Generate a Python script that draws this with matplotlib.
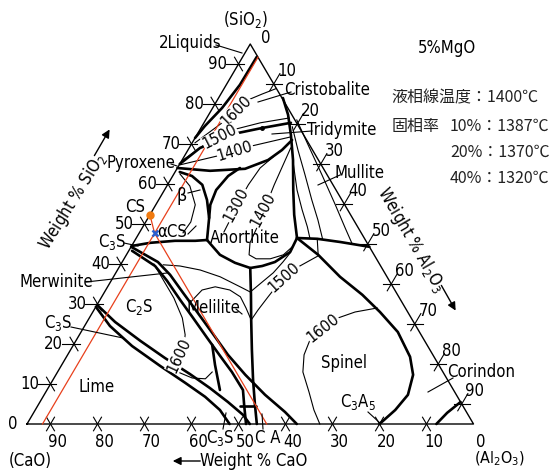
import numpy as np
import matplotlib
matplotlib.use("Agg")
import matplotlib.pyplot as plt
from matplotlib.lines import Line2D
from matplotlib import font_manager as fm

# narrow face for the labels, whichever one is installed
_fonts = fm.fontManager.ttflist
_names = {f.name for f in _fonts}
BASE, STRETCH, FS = 'Liberation Sans', 'normal', 10.5
if 'Liberation Sans Narrow' in _names:
    BASE, STRETCH, FS = 'Liberation Sans Narrow', 'normal', 12
else:
    for fam in ['DejaVu Sans', 'Noto Sans', 'Open Sans', 'Roboto']:
        if any(f.name == fam and str(f.stretch) in ('condensed', 'semi-condensed')
               for f in _fonts):
            BASE, STRETCH, FS = fam, 'condensed', 12
            break

plt.rcParams['font.family'] = [BASE, 'DejaVu Sans']
plt.rcParams['font.stretch'] = STRETCH
plt.rcParams['mathtext.fontset'] = 'custom'
plt.rcParams['mathtext.rm'] = f'{BASE}:stretch={STRETCH}'
plt.rcParams['mathtext.it'] = f'{BASE}:stretch={STRETCH}'

W, H = 553, 471
TOTAL = 95.0  # CaO + Al2O3 + SiO2 in the 5 % MgO section

# ---- phase boundaries, points are (Al2O3, SiO2) wt%, CaO is the rest ----
silica_2liq = [(3.0, 91.8), (2.9, 84.8), (2.0, 79.0), (0.6, 74.5), (0.0, 71.5)]
crist_trid = [(0.0, 65.0), (2.3, 69.0), (7.6, 72.5), (13.0, 74.0), (18.5, 75.3)]
trid_lower = [(0.0, 64.0), (7.3, 63.3), (14.5, 63.8), (18.3, 66.0), (20.0, 68.5), (20.9, 71.0)]
silica_mullite = [(13.7, 81.5), (16.9, 77.3), (20.0, 72.3), (23.6, 66.0), (27.4, 58.5),
                  (30.7, 52.3), (34.2, 46.5)]
cs_anorthite = [(1.0, 63.0), (4.1, 62.0), (7.4, 59.8), (10.3, 56.0), (13.0, 51.5), (15.3, 46.0)]
an_upper = [(13.3, 64.0), (11.8, 62.0), (11.0, 58.5), (11.6, 54.8), (13.0, 51.5)]
an_lower = [(15.3, 46.0), (19.9, 42.3), (24.1, 40.3), (28.0, 39.0), (30.3, 39.5),
            (32.5, 40.5), (34.5, 43.0), (34.2, 46.5)]
mullite_lower = [(34.2, 46.5), (38.6, 46.3), (43.9, 45.5), (50.7, 44.3)]
spinel_bound = [(34.2, 46.5), (40.8, 42.3), (48.2, 36.8), (55.2, 32.3), (61.1, 28.0),
                (67.4, 23.0), (73.1, 16.8), (76.0, 12.3), (77.4, 7.3), (76.6, 3.5), (75.0, 0.0)]
melilite_spinel = [(28.0, 39.0), (31.5, 32.3), (34.7, 26.0), (38.6, 18.5), (42.6, 11.0),
                   (46.1, 4.8), (48.9, 0.0)]
cs_lower = [(0.0, 44.5), (3.6, 45.3), (8.6, 45.8), (12.9, 45.8), (15.3, 46.0)]
c2s_mel_a = [(0.0, 44.3), (7.6, 40.5), (11.8, 37.3), (16.8, 32.8), (22.2, 28.0), (28.0, 22.8),
             (34.1, 17.3), (40.3, 12.3), (47.0, 7.3), (53.4, 3.0), (57.4, 0.0)]
c2s_mel_b = [(0.7, 43.3), (7.5, 39.5), (11.9, 35.8), (17.1, 31.0), (22.1, 26.5), (27.6, 21.5),
             (32.6, 17.0), (37.1, 13.0), (41.7, 8.5), (43.8, 4.8), (46.6, 0.0)]
c2s_c3s = [(0.0, 29.8), (6.0, 25.5), (13.7, 20.8), (21.1, 16.5), (28.4, 12.5), (34.4, 9.0),
           (40.0, 5.5), (44.8, 2.3), (47.4, 0.0)]
c3s_lime = [(0.0, 29.3), (5.4, 24.5), (12.6, 19.5), (21.1, 14.5), (28.5, 10.3), (34.5, 6.8),
            (39.3, 3.5), (43.1, 0.0)]
small_a = [(29.5, 19.8), (32.6, 14.8), (36.8, 8.5)]
small_b = [(43.1, 4.5), (46.5, 4.5)]
corundum = [(87.1, 0.0), (88.0, 2.8), (89.5, 5.5)]

thick_lines = [silica_2liq, crist_trid, trid_lower, silica_mullite, cs_anorthite, an_upper,
               an_lower, mullite_lower, spinel_bound, melilite_spinel, cs_lower, c2s_mel_a,
               c2s_mel_b, c2s_c3s, c3s_lime, small_a, small_b, corundum]

# ---- isotherms and other thin lines ----
iso1600_top = [(0.6, 70.3), (4.0, 75.5), (6.5, 81.0), (8.8, 82.5), (11.0, 83.8)]
iso1500_top = [(0.2, 66.0), (3.2, 70.3), (6.9, 73.5), (12.0, 75.3), (17.5, 76.5)]
iso1400_top = [(0.2, 64.8), (7.9, 67.3), (12.4, 69.3), (20.3, 71.8)]
iso1300_an = [(19.0, 66.8), (17.6, 64.0), (17.2, 59.8), (17.3, 55.3), (17.7, 51.0), (17.9, 48.0)]
iso1400_an = [(21.6, 69.0), (22.1, 64.8), (22.7, 59.8), (23.5, 54.8), (24.3, 49.8), (24.8, 45.3),
              (26.1, 42.3), (28.1, 41.3), (31.1, 41.3), (33.4, 42.3), (34.3, 44.3)]
mullite_iso_0 = [(24.3, 64.8), (28.2, 58.5), (31.8, 53.5), (35.0, 49.3), (37.0, 46.4)]
mullite_iso_1 = [(19.3, 74.3), (23.4, 68.5), (28.0, 62.3), (32.6, 56.0), (36.4, 51.0), (39.8, 46.2)]
mullite_iso_2 = [(19.4, 76.0), (24.9, 69.8), (31.6, 62.3), (38.2, 54.8), (43.2, 49.0), (46.7, 45.0)]
iso1600_spinel = [(60.0, 29.0), (55.8, 28.0), (52.9, 26.5), (50.8, 24.0), (49.7, 21.0),
                  (50.3, 17.3), (52.2, 13.0), (56.0, 8.0), (59.3, 3.5), (62.3, 0.0)]
iso1500_low = [(40.9, 42.0), (38.3, 39.5), (36.2, 36.5), (35.4, 31.8), (34.9, 28.5), (34.7, 26.0),
               (32.1, 29.0), (29.5, 31.8), (26.4, 33.5), (22.9, 34.3), (20.5, 33.5), (19.5, 30.3)]
iso_mel_upper = [(9.1, 39.8), (12.8, 39.5), (17.6, 38.5), (22.7, 36.8), (28.2, 34.3), (31.0, 33.0),
                 (32.3, 35.5), (33.5, 37.8), (34.2, 40.5), (34.6, 42.8)]
cs_alpha_beta = [(1.3, 62.5), (4.9, 59.5), (8.4, 54.8), (9.6, 50.5), (9.3, 47.8)]
iso1600_c2s = [(7.0, 40.0), (11.0, 36.0), (15.5, 31.5), (19.8, 26.5), (22.5, 22.3), (24.0, 18.5),
               (24.0, 15.5), (25.6, 13.0), (29.4, 11.5), (32.3, 11.3), (32.9, 13.0)]
mullite_spinel_tie = [(38.6, 46.3), (40.8, 42.3)]

thin_lines = [iso1600_top, iso1500_top, iso1400_top, iso1300_an, iso1400_an, mullite_iso_0,
              mullite_iso_1, mullite_iso_2, iso1600_spinel, iso1500_low, iso_mel_upper,
              cs_alpha_beta, iso1600_c2s, mullite_spinel_tie]

# section lines through the sample composition
const_al2o3 = [(3.3, 0.0), (3.3, 91.7)]
cs_to_ca = [(0.0, 52.3), (3.3, 47.7), (51.0, 0.0)]
cs_point = (0.0, 52.3)
sample = (3.3, 47.7)

tick_vals = [0, 10, 20, 30, 40, 50, 60, 70, 80, 90]

liquidus_temp = 1400
solid_frac = [10, 20, 40]
solid_temp = [1387, 1370, 1320]


def tern(pts):
    p = np.asarray(pts, dtype=float)
    return p[:, 0] + p[:, 1] / 2, p[:, 1]


def fp(x, y):
    return x / W, 1 - y / H


fig = plt.figure(figsize=(W / 100, H / 100), dpi=100)
ax = fig.add_axes([0, 0, 1, 1])
ax.set_xlim(-27 / 4.7, 526 / 4.7)
ax.set_ylim(-47 / 4, 424 / 4)
ax.axis('off')

# triangle
ax.plot(*tern([(0, 0), (TOTAL, 0), (0, TOTAL), (0, 0)]), color='k', lw=1.0)

for pts in thin_lines:
    ax.plot(*tern(pts), color='k', lw=0.8, solid_joinstyle='round')
for pts in thick_lines:
    ax.plot(*tern(pts), color='k', lw=1.9, solid_joinstyle='round', solid_capstyle='round')
ax.plot(*tern([(13.0, 74.0)]), 'o', color='k', ms=2.5)

# ticks on the three edges
d = 1.7
for v in tick_vals[1:]:
    a0 = TOTAL - v
    ax.plot(*tern([(a0 - d, d), (a0 + d, -d)]), color='k', lw=0.8)
    ax.plot(*tern([(a0, -d), (a0, d)]), color='k', lw=0.8)
    ax.plot(*tern([(-2.6, v), (1.2, v)]), color='k', lw=0.8)
    ax.plot(*tern([(-d, v + d), (d, v - d)]), color='k', lw=0.8)
    s0 = TOTAL - v
    ax.plot(*tern([(v - d, s0), (v + d, s0)]), color='k', lw=0.8)
    ax.plot(*tern([(v, s0 - d), (v, s0 + 2.6)]), color='k', lw=0.8)

for v in tick_vals:
    a0 = TOTAL - v
    ax.text(a0 + 1.5, -4.4, str(v), ha='center', va='center', fontsize=FS)
    ax.text(v / 2 - (4.4 if v else 3.0), v, str(v), ha='center', va='center', fontsize=FS)
    s0 = TOTAL - v
    if v:
        ax.text(v + s0 / 2 + 2.8, s0 + 3.3, str(v), ha='center', va='center', fontsize=FS)
    else:
        ax.text(s0 / 2 + 3.3, s0 + 1.5, str(v), ha='center', va='center', fontsize=FS)

# section lines
ax.plot(*tern(const_al2o3), color='#e8401c', lw=0.9)
ax.plot(*tern(cs_to_ca), color='#e8401c', lw=0.9)
ax.plot(*tern([cs_point]), 'o', color='#f07a10', ms=5)
ax.plot(*tern([sample]), 'x', color='#2a5fd0', ms=5, mew=1.8)


def lab(x, y, s, size=FS, rot=0, ha='center', **kw):
    fig.text(*fp(x, y), s, ha=ha, va='center', rotation=rot, fontsize=size,
             rotation_mode='anchor', **kw)


def lead(x1, y1, x2, y2):
    fig.add_artist(Line2D([x1 / W, x2 / W], [1 - y1 / H, 1 - y2 / H],
                          transform=fig.transFigure, color='k', lw=0.8))


def arrow(x1, y1, x2, y2):
    ax.annotate('', xy=fp(x2, y2), xytext=fp(x1, y1), xycoords='figure fraction',
                textcoords='figure fraction',
                arrowprops=dict(arrowstyle='-|>', color='k', lw=1.0, mutation_scale=12))


# phase fields
lab(190, 43, '2Liquids')
lab(327, 90, 'Cristobalite')
lab(342, 130, 'Tridymite')
lab(360, 173, 'Mullite')
lab(141, 163, 'Pyroxene')
lab(182, 196, 'β', size=FS + 1)
lab(135, 207, 'CS')
lab(172, 232, 'αCS')
lab(112, 242, 'C$_3$S')
lab(245, 238, 'Anorthite')
lab(56, 282, 'Merwinite')
lab(139, 307, 'C$_2$S')
lab(213, 308, 'Melilite')
lab(58, 323, 'C$_3$S')
lab(97, 387, 'Lime')
lab(344, 363, 'Spinel')
lab(358, 402, 'C$_3$A$_5$')
lab(481, 372, 'Corindon')
lab(220, 438, 'C$_3$S')
lab(268, 438, 'C A')

lead(216, 45, 242, 53)
lead(291, 92, 258, 102)
lead(312, 131, 272, 134)
lead(340, 175, 318, 185)
lead(171, 164, 177, 166)
lead(188, 193, 200, 190)
lead(188, 234, 196, 226)
lead(124, 243, 138, 246)
lead(86, 282, 167, 273)
lead(236, 309, 242, 314)
lead(71, 327, 123, 338)
lead(223, 429, 226, 413)
lead(263, 429, 262, 414)
lead(368, 412, 380, 423)
lead(453, 378, 428, 392)

# isotherm labels
for s, x, y, r in [('1600', 236, 111, 45), ('1500', 220, 137, 27), ('1400', 235, 151, 17),
                   ('1300', 236, 205, 62), ('1400', 263, 210, 62), ('1500', 284, 277, 42),
                   ('1600', 323, 328, 38), ('1600', 179, 355, 65)]:
    fig.text(*fp(x, y), s, ha='center', va='center', rotation=r, fontsize=FS - 0.5,
             rotation_mode='anchor', bbox=dict(fc='white', ec='none', pad=0.2))

# axis names
lab(246, 20, '(SiO$_2$)')
lab(30, 461, '(CaO)')
lab(500, 459, '(Al$_2$O$_3$)', size=FS - 0.5)
lab(254, 461, 'Weight % CaO')
arrow(203, 461, 170, 461)
lab(73, 202, 'Weight % SiO$_2$', rot=58)
arrow(93, 158, 111, 127)
lab(411, 240, 'Weight % Al$_2$O$_3$', rot=-60)
arrow(440, 283, 457, 313)

# conditions of this section
lab(447, 48, '5%MgO')
jp = ['Noto Sans CJK JP', 'DejaVu Sans']
lab(391, 98, f'液相線温度：{liquidus_temp}℃', size=11.5, ha='left', family=jp,
    stretch='normal', color='#222222')
lab(392, 126, '固相率', size=11.5, ha='left', family=jp, stretch='normal', color='#222222')
for i, (f, t) in enumerate(zip(solid_frac, solid_temp)):
    lab(450, 126 + 26 * i, f'{f}%：{t}℃', size=11.5, ha='left', family=jp,
        stretch='normal', color='#222222')

fig.savefig('out.png', dpi=100)
